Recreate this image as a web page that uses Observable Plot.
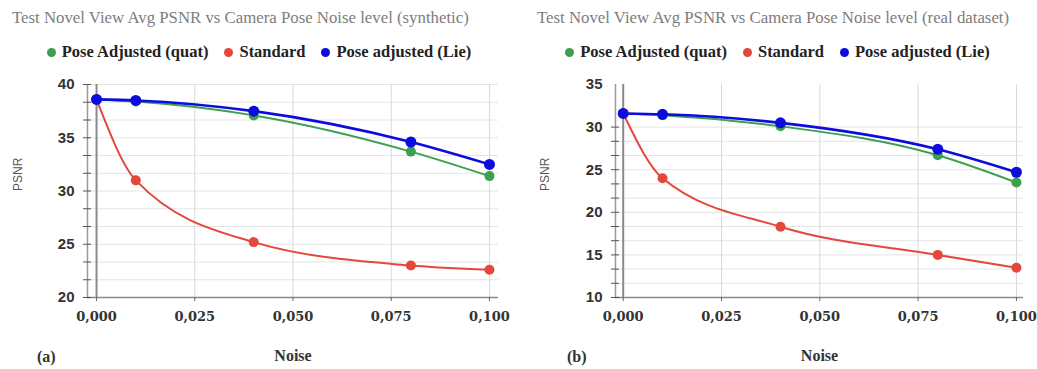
<!DOCTYPE html>
<html>
<head>
<meta charset="utf-8">
<script src="https://cdn.jsdelivr.net/npm/d3@7"></script>
<script src="https://cdn.jsdelivr.net/npm/@observablehq/plot@0.6"></script>
<style>
  body { margin: 0; background: #fff; width: 1037px; height: 369px; overflow: hidden; position: relative; }
  .panel { position: absolute; top: 0; height: 369px; }
  .title { position: absolute; top: 8px; white-space: nowrap; font-family: "Liberation Serif", serif; font-size: 16.8px; color: #7d7d7d; }
  .legend { position: absolute; top: 42px; left: 0; width: 100%; display: flex; justify-content: center; gap: 16px;
            font-family: "Liberation Serif", serif; font-weight: bold; font-size: 16.5px; color: #222; white-space: nowrap; }
  .legend span.item { display: inline-flex; align-items: center; gap: 6px; }
  .legend span.dot { width: 9px; height: 9px; border-radius: 50%; display: inline-block; }
  .tag { position: absolute; top: 348px; font-family: "Liberation Serif", serif; font-weight: bold; font-size: 16px; color: #333; }
  .chart { position: absolute; top: 65px; left: 0; }
  .chart g[aria-label="x-axis tick label"] text { font-weight: bold; }
</style>
</head>
<body>
<script>
// ---- data ----
const noise = [0, 0.01, 0.04, 0.08, 0.1];
const seriesNames = ["Pose Adjusted (quat)", "Standard", "Pose adjusted (Lie)"];
const seriesColors = ["#3d9f50", "#e4483c", "#0c0cdf"];
const xTicks = [0, 0.025, 0.05, 0.075, 0.1];

const synthQuat = [38.6, 38.4, 37.1, 33.7, 31.4];
const synthStd  = [38.6, 31.0, 25.2, 23.0, 22.6];
const synthLie  = [38.6, 38.5, 37.5, 34.6, 32.5];
const synthYTicks = [20, 25, 30, 35, 40];

const realQuat = [31.6, 31.4, 30.1, 26.7, 23.5];
const realStd  = [31.6, 24.0, 18.3, 15.0, 13.5];
const realLie  = [31.6, 31.5, 30.5, 27.4, 24.7];
const realYTicks = [10, 15, 20, 25, 30, 35];

const fmtX = d => d3.format(".3f")(d).replace(".", ",");

function panel(cfg) {
  const div = document.createElement("div");
  div.className = "panel";
  div.style.left = cfg.left + "px";
  div.style.width = cfg.width + "px";
  document.body.appendChild(div);

  const t = document.createElement("div");
  t.className = "title";
  t.style.left = cfg.titleX + "px";
  t.textContent = cfg.title;
  div.appendChild(t);

  const lg = document.createElement("div");
  lg.className = "legend";
  seriesNames.forEach((n, i) => {
    const it = document.createElement("span");
    it.className = "item";
    const d = document.createElement("span");
    d.className = "dot";
    d.style.background = seriesColors[i];
    it.appendChild(d);
    it.appendChild(document.createTextNode(n));
    lg.appendChild(it);
  });
  div.appendChild(lg);

  const tag = document.createElement("div");
  tag.className = "tag";
  tag.style.left = cfg.tagX + "px";
  tag.textContent = cfg.tag;
  div.appendChild(tag);

  const [y0, y1] = cfg.yDomain;
  const minor = d3.range(0, 13).map(i => y0 + i * 5 / 3).filter(v => v <= y1 + 1e-9);
  const values = [cfg.quat, cfg.std, cfg.lie];
  const rows = values.map((vals, i) => noise.map((x, j) => ({noise: x, value: vals[j], series: seriesNames[i]})));
  const widths = [2, 2, 2.6];
  const radii = [5, 5, 5.5];
  const order = [1, 0, 2];

  const marks = [
    Plot.ruleY(minor, {stroke: "#e4e4e4", strokeWidth: 1}),
    Plot.ruleX(xTicks.filter(d => d > 0), {stroke: "#d9d9d9", strokeWidth: 1}),
    Plot.ruleX([0], {stroke: "#8a8a8a", strokeWidth: 2}),
    Plot.ruleX([cfg.xDomain[0]], {stroke: "#9a9a9a", strokeWidth: 1.5}),
    Plot.ruleY([y0], {stroke: "#8a8a8a", strokeWidth: 1.5}),
    Plot.axisY(minor, {tickSize: 8, dx: 4, text: null, stroke: "#555", label: null}),
    Plot.text(cfg.yTicks, {y: d => d, text: d => String(d), frameAnchor: "left", dx: -13, textAnchor: "end",
      fontSize: 15, fontWeight: "bold", fill: "#333", fontFamily: "Liberation Sans, Arial, sans-serif"}),
    Plot.axisX(xTicks, {tickSize: 4, tickPadding: 10, tickFormat: fmtX, fontSize: 13, fontFamily: "DejaVu Serif, serif", fill: "#333", stroke: "#666", label: null}),
  ];
  for (const i of order) {
    marks.push(Plot.line(rows[i], {x: "noise", y: "value", stroke: seriesColors[i], strokeWidth: widths[i], curve: "monotone-x"}));
  }
  for (const i of order) {
    marks.push(Plot.dot(rows[i], {x: "noise", y: "value", fill: seriesColors[i], r: radii[i]}));
  }
  marks.push(Plot.text(["PSNR"], {text: d => d, frameAnchor: "left", dx: cfg.psnrDx, rotate: -90, fontSize: 12, fontFamily: "Liberation Sans, Arial, sans-serif", fill: "#555"}));
  marks.push(Plot.text(["Noise"], {text: d => d, frameAnchor: "bottom", dy: 63, fontSize: 16, fontWeight: "bold", fontFamily: "Liberation Serif, serif", fill: "#333"}));

  const svg = Plot.plot({
    width: cfg.width,
    height: 304,
    marginTop: 19,
    marginBottom: 72,
    marginLeft: cfg.marginLeft,
    marginRight: cfg.marginRight,
    x: {domain: cfg.xDomain},
    y: {domain: cfg.yDomain, axis: null},
    style: {fontFamily: "Liberation Sans, sans-serif", overflow: "visible", background: "transparent"},
    marks
  });
  const holder = document.createElement("div");
  holder.className = "chart";
  holder.appendChild(svg);
  div.appendChild(holder);
}

panel({
  left: 0, width: 518, title: "Test Novel View Avg PSNR vs Camera Pose Noise level (synthetic)", titleX: 12,
  yDomain: [20, 40], yTicks: synthYTicks, xDomain: [-0.0023, 0.1023], marginLeft: 87, marginRight: 20,
  quat: synthQuat, std: synthStd, lie: synthLie, tag: "(a)", tagX: 37, psnrDx: -69
});
panel({
  left: 518, width: 519, title: "Test Novel View Avg PSNR vs Camera Pose Noise level (real dataset)", titleX: 19,
  yDomain: [10, 35], yTicks: realYTicks, xDomain: [-0.00196, 0.1018], marginLeft: 97, marginRight: 14,
  quat: realQuat, std: realStd, lie: realLie, tag: "(b)", tagX: 49, psnrDx: -70
});
</script>
</body>
</html>
